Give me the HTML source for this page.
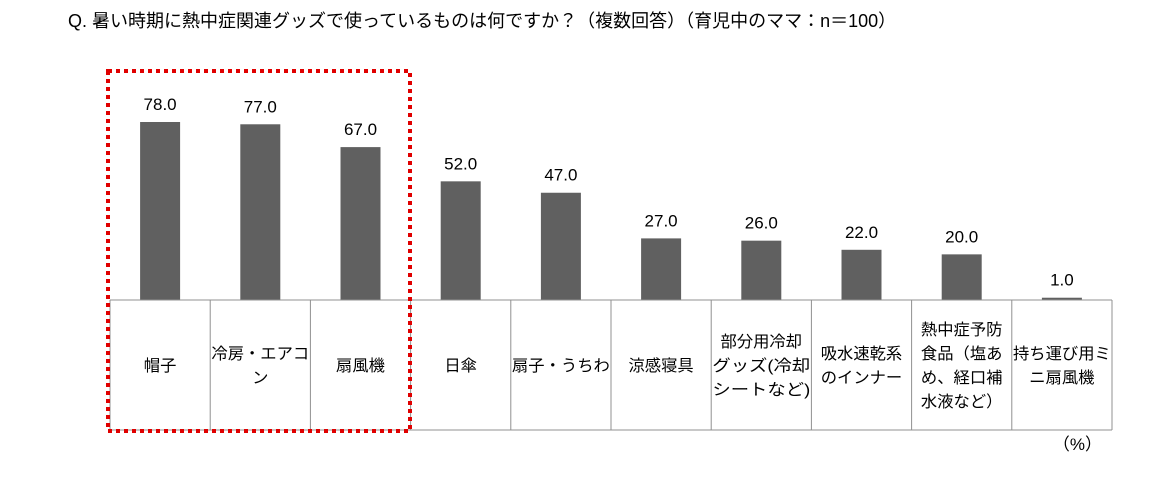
<!DOCTYPE html>
<html><head><meta charset="utf-8"><style>
body{margin:0;background:#fff;width:1173px;height:480px;overflow:hidden;font-family:"Liberation Sans","Noto Sans CJK JP",sans-serif}
</style></head><body>
<svg id="c" width="1173" height="480" style="position:absolute;left:0;top:0">
<text x="68" y="27" font-size="18" fill="#000">Q. 暑い時期に熱中症関連グッズで使っているものは何ですか？（複数回答）（育児中のママ：n＝100）</text>
<g id="bars"></g><g id="grid"></g><g id="labels"></g>
<rect x="108" y="71" width="302" height="360" fill="none" stroke="#e00000" stroke-width="4" stroke-dasharray="4,4"/>
<text x="1102" y="450" font-size="17" text-anchor="end">（%）</text>
</svg>
<script>
const categories=[["帽子"],["冷房・エアコ","ン"],["扇風機"],["日傘"],["扇子・うちわ"],["涼感寝具"],["部分用冷却","グッズ(冷却","シートなど)"],["吸水速乾系","のインナー"],["熱中症予防","食品（塩あ","め、経口補","水液など）"],["持ち運び用ミ","ニ扇風機"]];
const values=[78.0,77.0,67.0,52.0,47.0,27.0,26.0,22.0,20.0,1.0];
const valueLabels=["78.0","77.0","67.0","52.0","47.0","27.0","26.0","22.0","20.0","1.0"];
const NS="http://www.w3.org/2000/svg";
const x0=110,x1=1112,base=300,scale=2.282,bw=40,tblBottom=430;
const cw=(x1-x0)/categories.length;
const xPos=i=>x0+cw*i;
const yPos=v=>base-v*scale;
const bars=document.getElementById('bars'),grid=document.getElementById('grid'),labels=document.getElementById('labels');
function mk(tag,attrs,parent){const e=document.createElementNS(NS,tag);for(const k in attrs)e.setAttribute(k,attrs[k]);parent.appendChild(e);return e;}
values.forEach((v,i)=>{
  const cx=xPos(i)+cw/2;
  const r=mk('rect',{x:cx-bw/2,y:yPos(v),width:bw,height:base-yPos(v),fill:'#606060'},bars);
  
  
  const t=mk('text',{x:cx,y:yPos(v)-12,'font-size':17,'text-anchor':'middle',fill:'#000'},labels);
  t.textContent=valueLabels[i];
  
  
  const lines=categories[i];const lh=24;
  const startY=(base+tblBottom)/2-(lines.length-1)*lh/2+6;
  lines.forEach((ln,j)=>{
    const c=mk('text',{x:cx,y:startY+j*lh,'font-size':16,'text-anchor':'middle',fill:'#000',textLength:Math.min(ln.length*16.3,98),lengthAdjust:'spacingAndGlyphs'},labels);
    c.textContent=ln;
    
    
  });
});
const h1=mk('line',{x1:x0,x2:x1,y1:base,y2:base,stroke:'#909090'},grid);


const h2=mk('line',{x1:x0,x2:x1,y1:tblBottom,y2:tblBottom,stroke:'#909090'},grid);


for(let i=0;i<=categories.length;i++){
  const l=mk('line',{x1:xPos(i),x2:xPos(i),y1:base,y2:tblBottom,stroke:'#909090'},grid);
  
  
}
</script>
</body></html>
